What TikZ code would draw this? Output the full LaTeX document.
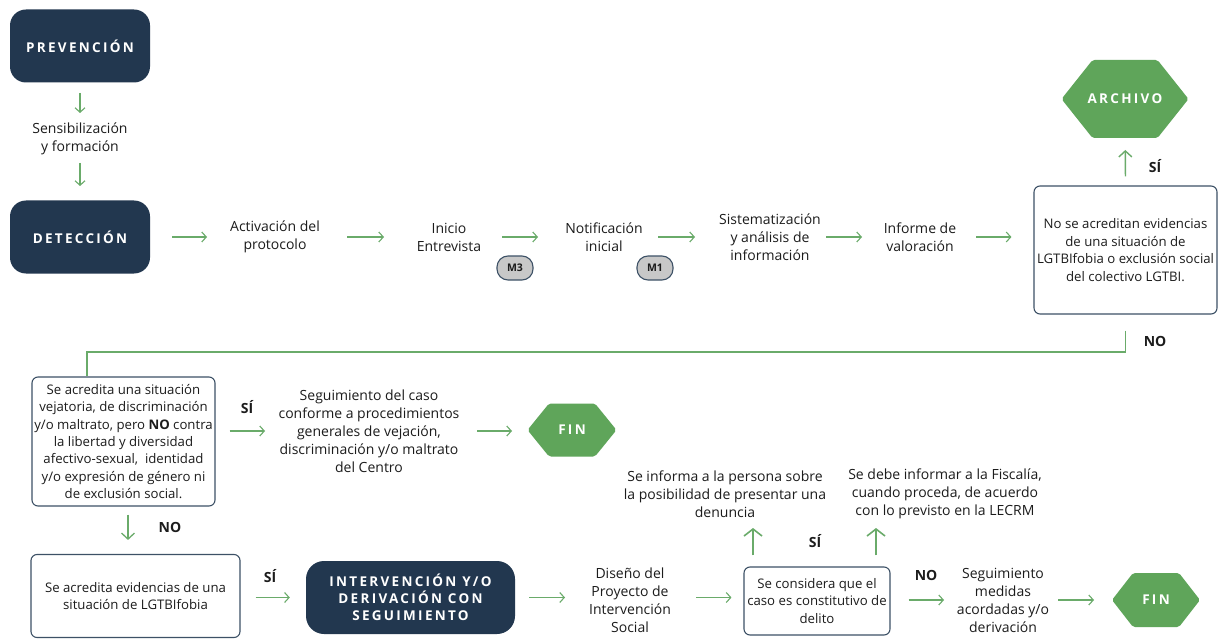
\documentclass[tikz,border=0pt]{standalone}
\usepackage{fontspec}
\setmainfont{Open Sans}
\newfontfamily\spacedfont[LetterSpace=17]{Open Sans}
\usetikzlibrary{arrows.meta,calc}
\definecolor{navy}{HTML}{22374F}
\definecolor{hexgreen}{HTML}{5FA55A}
\definecolor{arrgreen}{HTML}{6AAB6A}
\definecolor{boxline}{HTML}{3D5166}
\definecolor{pillgray}{HTML}{C8C8C8}
\definecolor{txt}{HTML}{1C1C1C}
\newcommand\hexfillat[4]{%
  \fill[hexgreen,rounded corners=2pt]
    ([shift={(-#2,0)}]#1) -- ([shift={(-#3,-#4)}]#1) -- ([shift={(#3,-#4)}]#1)
    -- ([shift={(#2,0)}]#1) -- ([shift={(#3,#4)}]#1) -- ([shift={(-#3,#4)}]#1) -- cycle;}
\begin{document}
\begin{tikzpicture}[x=1pt,y=-1pt,
  every node/.style={text=txt},
  arr/.style={draw=arrgreen,line width=1.1pt,-{Straight Barb[length=4.5pt,width=10pt]}},
  bigarr/.style={draw=arrgreen,line width=1.6pt,-{Straight Barb[length=7pt,width=18pt]}},
  gline/.style={draw=arrgreen,line width=1.4pt},
  darkbox/.style={fill=navy,rounded corners=16pt,minimum width=140pt,minimum height=73pt,
     text=white,font=\spacedfont\bfseries\fontsize{13.5}{17}\selectfont,align=center},
  freetext/.style={align=center,font=\fontsize{14}{18}\selectfont},
  boxtext/.style={draw=boxline,line width=1.1pt,rounded corners=6pt,align=center,
     font=\fontsize{13.2}{17.4}\selectfont,inner sep=0pt},
  pill/.style={draw=boxline,line width=1.1pt,fill=pillgray,rounded corners=11pt,
     minimum width=36pt,minimum height=24pt,inner sep=0pt,font=\bfseries\fontsize{10.5}{12}\selectfont},
  hextext/.style={text=white,font=\spacedfont\bfseries\fontsize{13.5}{16}\selectfont},
  lbl/.style={font=\bfseries\fontsize{14}{16}\selectfont}]
\useasboundingbox (0,0) rectangle (1220,639);
\fill[white] (0,0) rectangle (1220,639);

% ---- top row
\node[darkbox] (prev) at (80,46) {PREVENCIÓN};
\node[freetext] (sens) at (80,139) {Sensibilización\\y formación};
\node[darkbox] (det) at (80,237) {DETECCIÓN};
\node[freetext] (act) at (275,237) {Activación del\\protocolo};
\node[freetext] (ini) at (449,237) {Inicio\\Entrevista};
\node[pill] (m3) at (515,268) {M3};
\node[freetext] (not) at (604,237) {Notificación\\inicial};
\node[pill] (m1) at (655,268) {M1};
\node[freetext] (sis) at (770,237) {Sistematización\\y análisis de\\información};
\node[freetext] (inf) at (920,237) {Informe de\\valoración};
\node[boxtext,minimum width=183pt,minimum height=128pt] (noacr) at (1125.5,250)
  {No se acreditan evidencias\\de una situación de\\LGTBIfobia o exclusión social\\del colectivo LGTBI.};
\coordinate (archc) at (1125,99);
\hexfillat{archc}{63.5}{32.5}{39}
\node[hextext] (arch) at (archc) {ARCHIVO};
\node[lbl] (si1) at (1155,166) {SÍ};
\node[lbl] (no1) at (1155,341) {NO};

\draw[arr,shorten <=47pt,shorten >=26pt] (prev.center) -- (sens.center);
\draw[arr,shorten <=24pt,shorten >=51pt] (sens.center) -- (det.center);
\draw[arr,shorten <=92pt,shorten >=68pt] (det.center) -- (act.center);
\draw[arr,shorten <=72pt,shorten >=65pt] (act.center) -- (ini.center);
\draw[arr,shorten <=53pt,shorten >=66pt] (ini.center) -- (not.center);
\draw[arr,shorten <=54pt,shorten >=75pt] (not.center) -- (sis.center);
\draw[arr,shorten <=56pt,shorten >=58pt] (sis.center) -- (inf.center);
\draw[arr,shorten <=56pt,shorten >=22pt] (inf.center) -- (inf.center -| noacr.west);
\draw[arr,line width=1.4pt,-{Straight Barb[length=6pt,width=13pt]},shorten <=9pt,shorten >=51pt] (noacr.north) -- (arch.center);

% ---- middle row
\node[boxtext,minimum width=183pt,minimum height=129pt] (sit) at (123.5,441.5)
  {Se acredita una situación\\vejatoria, de discriminación\\y/o maltrato, pero \textbf{NO} contra\\la libertad y diversidad\\afectivo-sexual,\ \ identidad\\y/o expresión de género ni\\de exclusión social.};
\coordinate (nobend) at (0,352);
\draw[gline,shorten <=16pt] (noacr.south) -- (noacr.south |- nobend)
   -- ([xshift=-36.5pt]sit.north |- nobend) -- ([xshift=-36.5pt]sit.north);
\node[lbl] (si2) at (247,407) {SÍ};
\node[freetext] (seg) at (369,431) {Seguimiento del caso\\conforme a procedimientos\\generales de vejación,\\discriminación y/o maltrato\\del Centro};
\coordinate (fin1c) at (572,430);
\hexfillat{fin1c}{44.5}{23}{26.5}
\node[hextext] (fin1) at (fin1c) {FIN};
\draw[arr,shorten <=14pt,shorten >=104pt] (seg.center -| sit.east) -- (seg.center);
\draw[arr,shorten <=108pt,shorten >=60pt] (seg.center) -- (seg.center -| fin1.center);

% ---- bottom row
\node[boxtext,minimum width=209pt,minimum height=83pt] (evid) at (135.5,596)
  {Se acredita evidencias de una\\situación de LGTBIfobia};
\draw[arr,line width=1.3pt,-{Straight Barb[length=6pt,width=13pt]},shorten <=8pt,shorten >=14pt] ([xshift=4.5pt]sit.south) -- ([xshift=4.5pt]sit.south |- evid.north);
\node[lbl] (no2) at (170,527) {NO};
\node[lbl] (si3) at (270,576) {SÍ};
\node[darkbox,minimum width=209pt,minimum height=73pt,rounded corners=18pt] (interv) at (410.5,597.5)
  {INTERVENCIÓN Y/O\\DERIVACIÓN CON\\SEGUIMIENTO};
\draw[arr,shorten <=15pt,shorten >=16pt] (evid.east |- interv.center) -- (interv.west);
\node[freetext] (dis) at (630,600) {Diseño del\\Proyecto de\\Intervención\\Social};
\node[boxtext,minimum width=146pt,minimum height=68pt] (cons) at (817,601)
  {Se considera que el\\caso es constitutivo de\\delito};
\draw[arr,shorten <=14pt,shorten >=65pt] (interv.east) -- (interv.east -| dis.center);
\draw[arr,shorten <=66pt,shorten >=12pt] (interv.east -| dis.center) -- (interv.east -| cons.west);
\node[freetext] (inf1) at (725,494) {Se informa a la persona sobre\\la posibilidad de presentar una\\denuncia};
\node[freetext] (inf2) at (945,494) {Se debe informar a la Fiscalía,\\cuando proceda, de acuerdo\\con lo previsto en la LECRM};
\draw[bigarr,shorten <=11pt,shorten >=34pt] ([xshift=-64pt]cons.north) -- ([xshift=-64pt]cons.north |- inf1.center);
\draw[bigarr,shorten <=11pt,shorten >=34pt] ([xshift=59pt]cons.north) -- ([xshift=59pt]cons.north |- inf2.center);
\node[lbl] (si4) at (815,541) {SÍ};
\node[lbl] (no3) at (926,575) {NO};
\node[freetext] (segm) at (1003,600) {Seguimiento\\medidas\\acordadas y/o\\derivación};
\coordinate (fin2c) at (1156,600);
\hexfillat{fin2c}{44}{23}{27}
\node[hextext] (fin2) at (fin2c) {FIN};
\draw[arr,shorten <=18pt,shorten >=59pt] (cons.east |- segm.center) -- (segm.center);
\draw[arr,shorten <=55pt,shorten >=62pt] (segm.center) -- (segm.center -| fin2.center);
\end{tikzpicture}
\end{document}
